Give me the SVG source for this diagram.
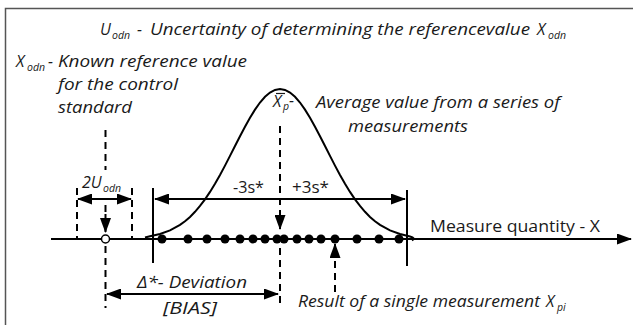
<svg xmlns="http://www.w3.org/2000/svg" width="633" height="325" viewBox="0 0 633 325">
<defs>
<style>
.t{font-family:"Open Sans","Liberation Sans",sans-serif;fill:#1a1a1a;font-size:16px}
.i{font-style:italic}
.s{font-size:10.5px}
.ln{stroke:#000;stroke-width:2;fill:none}
.ds{stroke:#000;stroke-width:2;fill:none;stroke-dasharray:7 5}
.dot{fill:#000}
</style>
<marker id="ah" markerUnits="userSpaceOnUse" markerWidth="15" markerHeight="11" refX="14" refY="5.5" orient="auto-start-reverse" viewBox="0 0 15 11">
<path d="M0,0 L15,5.5 L0,11 z" fill="#000"/>
</marker>
</defs>
<rect width="633" height="325" fill="#fff"/>
<rect x="5.5" y="8.5" width="640" height="330" fill="none" stroke="#555" stroke-width="1.5"/>

<g id="connectors">
<line class="ln" x1="51" y1="239" x2="631" y2="239" marker-end="url(#ah)"/>
<line class="ln" x1="153" y1="188" x2="153" y2="263"/>
<line class="ln" x1="407" y1="190" x2="407" y2="266"/>
<line class="ln" x1="155" y1="199" x2="405" y2="199" marker-start="url(#ah)" marker-end="url(#ah)"/>
<line class="ds" x1="77" y1="188" x2="77" y2="238"/>
<line class="ds" x1="132" y1="188" x2="132" y2="238"/>
<line class="ln" x1="78" y1="199" x2="131" y2="199" marker-start="url(#ah)" marker-end="url(#ah)"/>
<line class="ds" x1="105.5" y1="130" x2="105.5" y2="170"/>
<line class="ds" x1="105.5" y1="205" x2="105.5" y2="215"/>
<line class="ln" x1="105.5" y1="214" x2="105.5" y2="232" marker-end="url(#ah)"/>
<line class="ds" x1="105.5" y1="246" x2="105.5" y2="308"/>
<line class="ds" x1="280" y1="126" x2="280" y2="213"/>
<line class="ln" x1="280" y1="212" x2="280" y2="229" marker-end="url(#ah)"/>
<line class="ds" x1="280" y1="248" x2="280" y2="308"/>
<line class="ln" x1="107" y1="294" x2="278" y2="294" marker-start="url(#ah)" marker-end="url(#ah)"/>
<line class="ds" x1="335" y1="292" x2="335" y2="257"/>
<line class="ln" x1="335" y1="258" x2="335" y2="244" marker-end="url(#ah)"/>
</g>

<g id="curve">
<path class="ln" d="M145,237.5 L150,236.2 L160,234 L170,230.4 L180,224.9 L185,221.2 L190,216.9 L195,211.8 L200,205.9 L205,199.3 L210,191.9 L215,183.7 L220,174.9 L225,165.6 L230,155.9 L235,146 L240,136.2 L245,126.7 L250,117.7 L255,109.6 L260,102.5 L265,96.8 L270,92.5 L275,89.9 L280,89 L285,89.9 L290,92.5 L295,96.8 L300,102.5 L305,109.6 L310,117.7 L315,126.7 L320,136.2 L325,146 L330,155.9 L335,165.6 L340,174.9 L345,183.7 L350,191.9 L355,199.3 L360,205.9 L365,211.8 L370,216.9 L375,221.2 L380,224.9 L390,230.4 L400,234 L410,236.5 Q416,238 412,240.5"/>
</g>

<g id="measurements">
<circle class="dot" cx="162" cy="239" r="4.5"/>
<circle class="dot" cx="188" cy="239" r="4.5"/>
<circle class="dot" cx="207" cy="239" r="4.5"/>
<circle class="dot" cx="225" cy="239" r="4.5"/>
<circle class="dot" cx="240" cy="239" r="4.5"/>
<circle class="dot" cx="253" cy="239" r="4.5"/>
<circle class="dot" cx="265" cy="239" r="4.5"/>
<circle class="dot" cx="277" cy="239" r="4.5"/>
<circle class="dot" cx="284" cy="239" r="4.5"/>
<circle class="dot" cx="297" cy="239" r="4.5"/>
<circle class="dot" cx="309" cy="239" r="4.5"/>
<circle class="dot" cx="321" cy="239" r="4.5"/>
<circle class="dot" cx="335" cy="239" r="4.5"/>
<circle class="dot" cx="357" cy="239" r="4.5"/>
<circle class="dot" cx="379" cy="239" r="4.5"/>
<circle class="dot" cx="399" cy="239" r="4.5"/>
</g>

<g id="reference-point">
<circle cx="105.5" cy="239" r="4" fill="#fff" stroke="#000" stroke-width="1.5"/>
</g>

<g id="title">
<text class="t i" x="100" y="35">U</text>
<text class="t i s" x="112" y="39">odn</text>
<text class="t i" x="137" y="35">-</text>
<text class="t i" x="150" y="35" textLength="380" lengthAdjust="spacingAndGlyphs">Uncertainty of determining the referencevalue</text>
<text class="t i" x="537" y="35">X</text>
<text class="t i s" x="548" y="39">odn</text>
</g>

<g id="label-xodn">
<text class="t i" x="16" y="67">X</text>
<text class="t i s" x="27" y="71">odn</text>
<text class="t i" x="48" y="67">-</text>
<text class="t i" x="58" y="67" textLength="189" lengthAdjust="spacingAndGlyphs">Known reference value</text>
<text class="t i" x="58" y="90" textLength="120" lengthAdjust="spacingAndGlyphs">for the control</text>
<text class="t i" x="58" y="113" textLength="74" lengthAdjust="spacingAndGlyphs">standard</text>
</g>

<g id="label-xp">
<line x1="276" y1="93.5" x2="285" y2="93.5" stroke="#1a1a1a" stroke-width="1.2"/>
<text class="t i" x="273" y="107">X</text>
<text class="t i s" x="283" y="110">p</text>
<text class="t i" x="289" y="106">-</text>
<text class="t i" x="316" y="108" textLength="244" lengthAdjust="spacingAndGlyphs">Average value from a series of</text>
<text class="t i" x="348" y="132" textLength="120" lengthAdjust="spacingAndGlyphs">measurements</text>
</g>

<g id="label-2u">
<text class="t i" x="82" y="188">2U</text>
<text class="t i s" x="103" y="192">odn</text>
</g>

<g id="label-3s">
<text class="t" x="233" y="193" textLength="31" lengthAdjust="spacingAndGlyphs">-3s*</text>
<text class="t" x="292" y="193" textLength="37" lengthAdjust="spacingAndGlyphs">+3s*</text>
</g>

<g id="label-axis">
<text class="t" x="430" y="232" textLength="170" lengthAdjust="spacingAndGlyphs">Measure quantity - X</text>
</g>

<g id="label-deviation">
<text class="t i" x="137" y="288" textLength="110" lengthAdjust="spacingAndGlyphs">Δ*- Deviation</text>
<text class="t i" x="163" y="314" textLength="54" lengthAdjust="spacingAndGlyphs">[BIAS]</text>
</g>

<g id="label-result">
<text class="t i" x="298" y="307" textLength="242" lengthAdjust="spacingAndGlyphs">Result of a single measurement</text>
<text class="t i" x="546" y="307">X</text>
<text class="t i s" x="557" y="311">pi</text>
</g>
</svg>
